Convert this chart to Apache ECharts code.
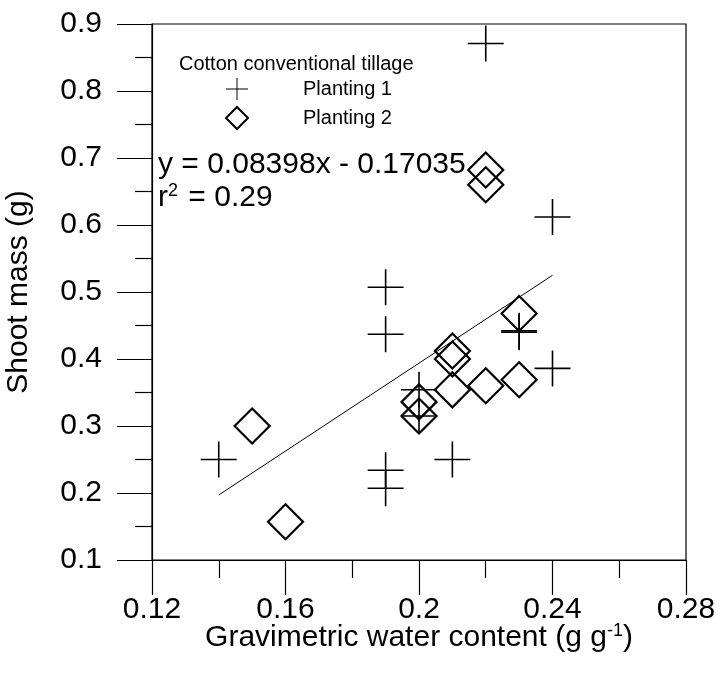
<!DOCTYPE html>
<html>
<head>
<meta charset="utf-8">
<script src="https://cdn.jsdelivr.net/npm/echarts@6/dist/echarts.min.js"></script>
<style>html,body{margin:0;padding:0;background:#fff}#c{width:720px;height:681px}</style>
</head>
<body>
<div id="c"></div>
<script>
// Planting 1 (crosses)
const p1x = [0.14, 0.19, 0.19, 0.19, 0.19, 0.20, 0.20, 0.21, 0.22, 0.23, 0.23, 0.24, 0.24];
const p1y = [0.25, 0.507, 0.437, 0.234, 0.207, 0.354, 0.315, 0.25, 0.871, 0.44, 0.442, 0.612, 0.386];
// Planting 2 (diamonds)
const p2x = [0.15, 0.16, 0.20, 0.20, 0.21, 0.21, 0.21, 0.22, 0.22, 0.22, 0.23, 0.23];
const p2y = [0.30, 0.157, 0.336, 0.315, 0.412, 0.400, 0.354, 0.682, 0.660, 0.360, 0.369, 0.468];
// fitted line endpoints
const fitX = [0.14, 0.24];
const fitY = [0.197, 0.525];
const xTicks = [0.12, 0.16, 0.2, 0.24, 0.28];
const yTicks = [0.1, 0.2, 0.3, 0.4, 0.5, 0.6, 0.7, 0.8, 0.9];
const seriesNames = ['Planting 1', 'Planting 2'];
const legendTitle = 'Cotton conventional tillage';
const eqText = 'y = 0.08398x - 0.17035';
const r2Text = '0.29';

const FONT = 'Liberation Sans, Arial, sans-serif';
const crossPath = 'path://M17.2,0h1.6v17.2h17.2v1.6h-17.2v17.2h-1.6v-17.2h-17.2v-1.6h17.2z';

const zip = (a, b) => a.map((v, i) => [v, b[i]]);

const chart = echarts.init(document.getElementById('c'));
chart.setOption({
  animation: false,
  backgroundColor: '#fff',
  textStyle: { fontFamily: FONT, color: '#000' },
  grid: { left: 152, top: 24, width: 534, height: 536, outerBoundsMode: 'none', containLabel: false,
    show: true, borderColor: '#000', borderWidth: 1.2, backgroundColor: 'transparent' },
  title: {
    text: legendTitle, left: 174, top: 49,
    textStyle: { fontFamily: FONT, fontSize: 20, fontWeight: 'normal', color: '#000' }
  },
  legend: {
    orient: 'vertical', left: 220, top: 73, itemWidth: 22, itemHeight: 22, itemGap: 6,
    textStyle: { fontFamily: FONT, fontSize: 20, color: '#000', padding: [0, 0, 0, 50] },
    data: [
      { name: seriesNames[0], icon: crossPath, itemStyle: { color: '#000', borderWidth: 0 } },
      { name: seriesNames[1], icon: 'diamond', itemStyle: { color: '#fff', borderColor: '#000', borderWidth: 2 } }
    ]
  },
  xAxis: {
    type: 'value', min: xTicks[0], max: xTicks[xTicks.length - 1], interval: 0.04,
    name: 'Gravimetric water content (g g{sup|-1})',
    nameLocation: 'middle', nameGap: 62, nameMoveOverlap: false,
    nameTextStyle: {
      fontFamily: FONT, fontSize: 30, color: '#000',
      rich: { sup: { fontSize: 18, fontFamily: FONT, color: '#000', verticalAlign: 'bottom', padding: [0, 0, 14, 0] } }
    },
    axisLine: { show: true, lineStyle: { color: '#000', width: 1.2 } },
    axisTick: { show: true, inside: false, length: 35, lineStyle: { color: '#000', width: 1.2 } },
    minorTick: { show: true, splitNumber: 2, length: 18, lineStyle: { color: '#000', width: 1.2 } },
    splitLine: { show: false },
    axisLabel: { fontFamily: FONT, fontSize: 30, color: '#000', margin: 35,
      formatter: v => String(+v.toFixed(2)) }
  },
  yAxis: {
    type: 'value', min: yTicks[0], max: yTicks[yTicks.length - 1], interval: 0.1,
    name: 'Shoot mass (g)', nameLocation: 'middle', nameGap: 118, nameRotate: 90, nameMoveOverlap: false,
    nameTextStyle: { fontFamily: FONT, fontSize: 30, color: '#000' },
    axisLine: { show: true, lineStyle: { color: '#000', width: 1.2 } },
    axisTick: { show: true, inside: false, length: 35, lineStyle: { color: '#000', width: 1.2 } },
    minorTick: { show: true, splitNumber: 2, length: 17, lineStyle: { color: '#000', width: 1.2 } },
    splitLine: { show: false },
    axisLabel: { fontFamily: FONT, fontSize: 30, color: '#000', margin: 50,
      formatter: v => String(+v.toFixed(1)) }
  },
  graphic: [
    { type: 'text', left: 158, top: 150, style: { text: eqText, font: '30px ' + FONT, fill: '#000' } },
    { type: 'text', left: 158, top: 182, style: {
      text: '{b|r}{s|2}{b| = ' + r2Text + '}',
      rich: {
        b: { fontSize: 30, fontFamily: FONT, fill: '#000' },
        s: { fontSize: 18, fontFamily: FONT, fill: '#000', verticalAlign: 'bottom', padding: [0, 2, 14, 0] }
      }
    } }
  ],
  series: [
    {
      name: 'fit', type: 'line', data: zip(fitX, fitY), showSymbol: false, symbol: 'none',
      lineStyle: { color: '#000', width: 1 }, silent: true, z: 1
    },
    {
      name: seriesNames[0], type: 'scatter', data: zip(p1x, p1y), symbol: crossPath, symbolSize: 36,
      itemStyle: { color: '#000', opacity: 1 }, z: 3
    },
    {
      name: seriesNames[1], type: 'scatter', data: zip(p2x, p2y), symbol: 'diamond', symbolSize: 35,
      itemStyle: { color: 'rgba(0,0,0,0)', borderColor: '#000', borderWidth: 2.2, opacity: 1 }, z: 2
    }
  ]
});
</script>
</body>
</html>
